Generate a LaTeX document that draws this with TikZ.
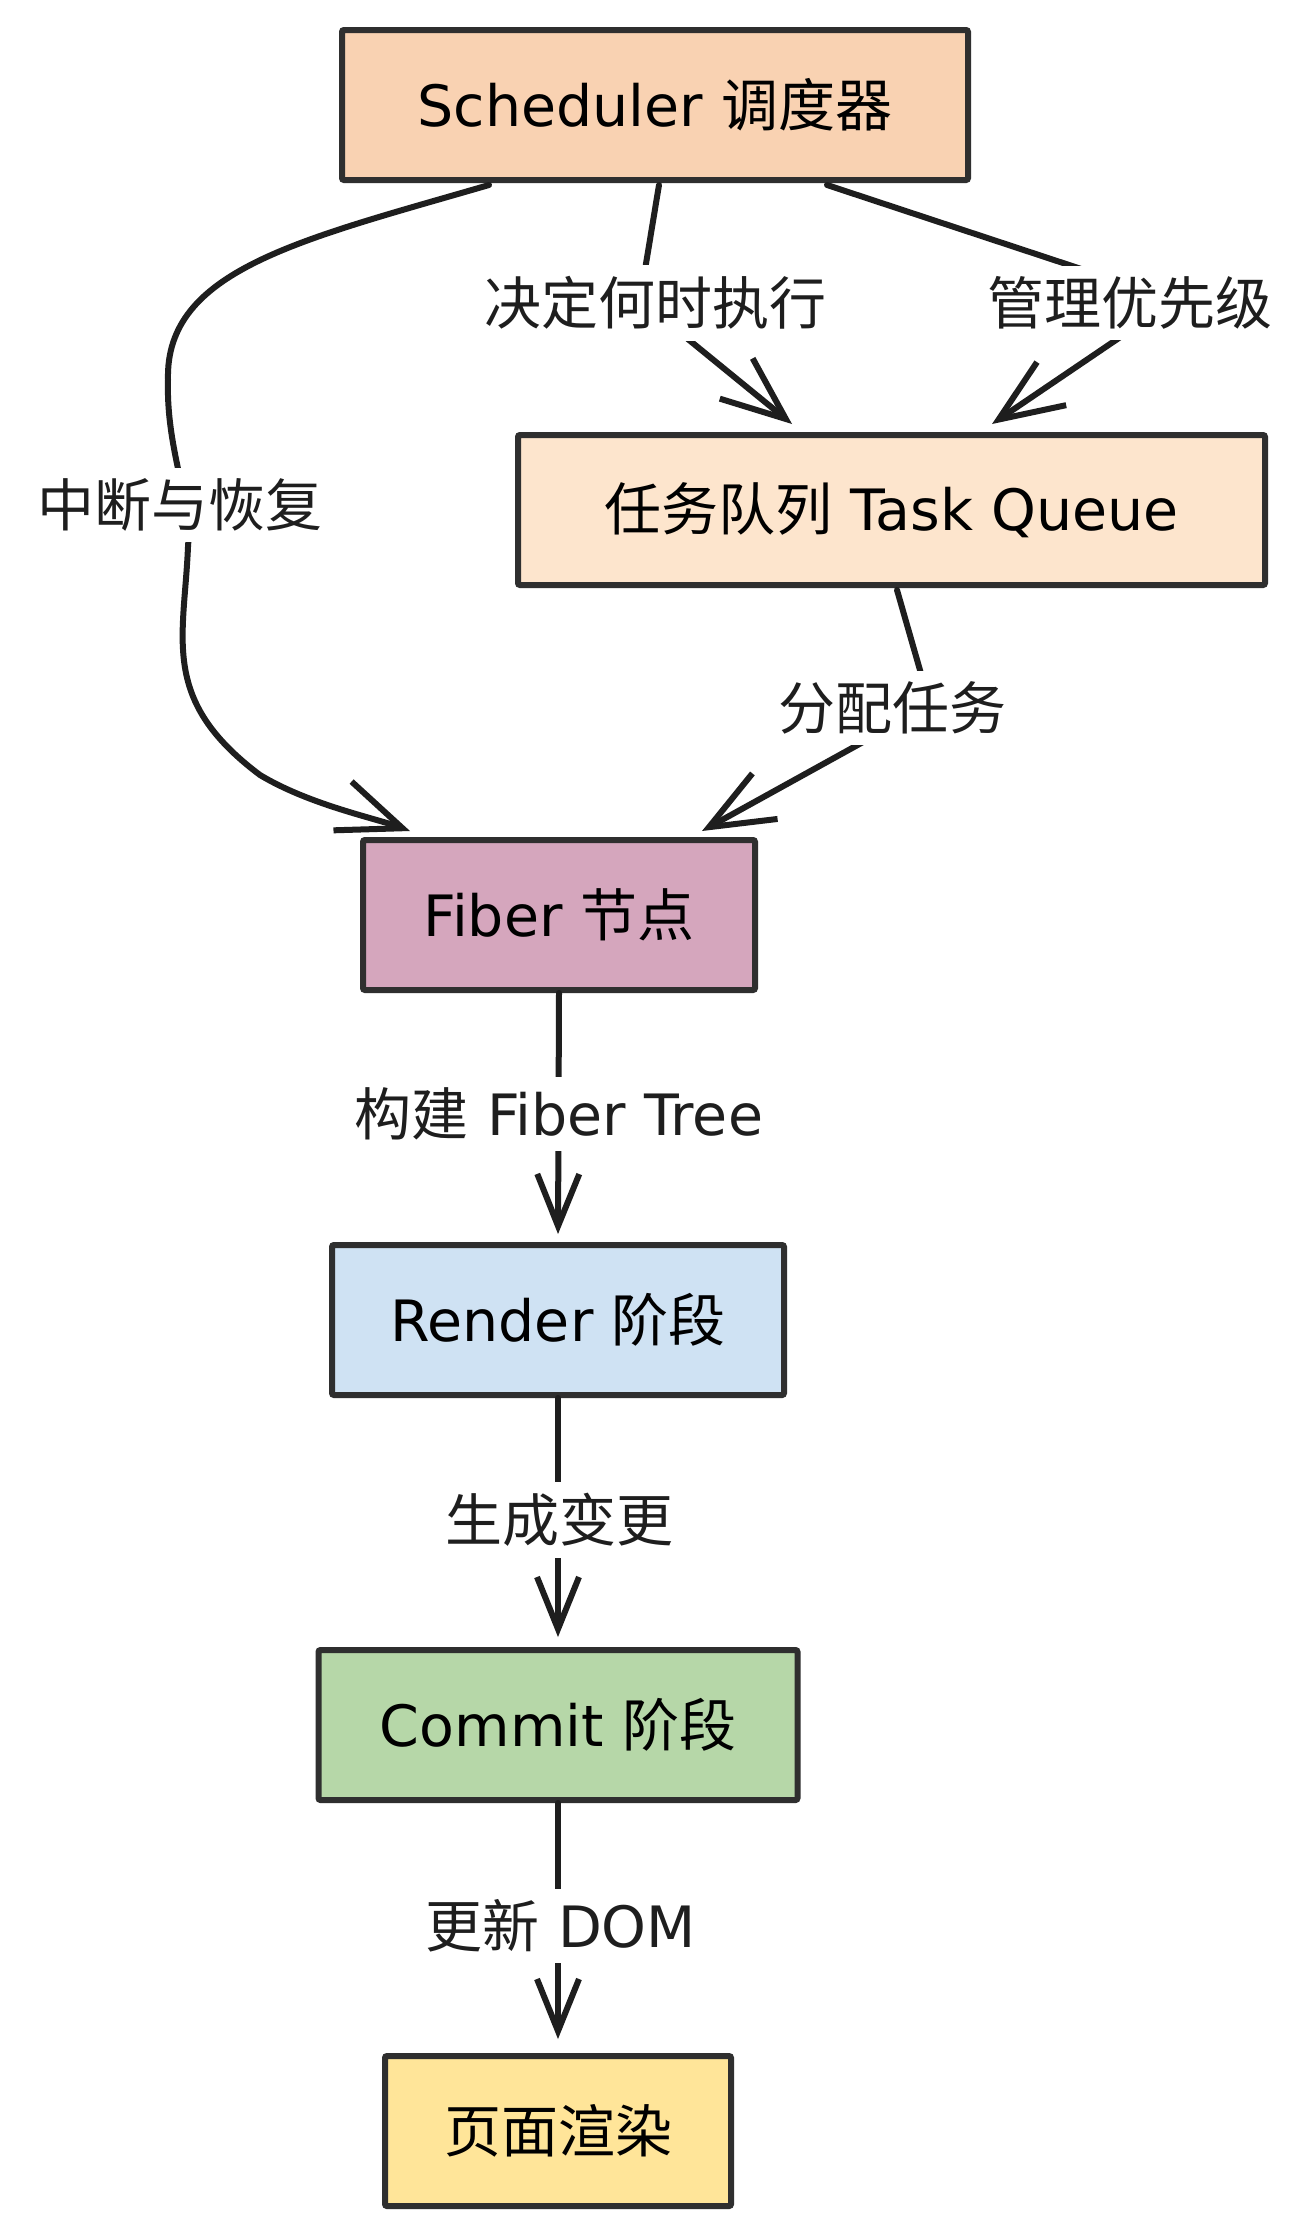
\documentclass[tikz,border=0pt]{standalone}
\usepackage{fontspec}
\setmainfont{DejaVu Sans}
\newfontfamily\cjk{Noto Sans CJK SC}
\usetikzlibrary{arrows.meta,calc}
\definecolor{cSched}{HTML}{F9D2B2}
\definecolor{cQueue}{HTML}{FDE5CD}
\definecolor{cFiber}{HTML}{D5A6BD}
\definecolor{cRender}{HTML}{CFE2F3}
\definecolor{cCommit}{HTML}{B6D7A8}
\definecolor{cPage}{HTML}{FFE599}
\definecolor{cBorder}{HTML}{2F2F2F}
\definecolor{cArrow}{HTML}{1E1E1E}
\begin{document}
\begin{tikzpicture}[x=1pt,y=-1pt,
  box/.style={draw=cBorder,line width=6pt,rounded corners=2pt,minimum height=150pt,inner sep=0pt,
    font=\fontsize{57}{68}\selectfont,text=black},
  conn/.style={draw=cArrow,line width=6pt,line cap=round,line join=round},
  bighead/.style={-{Straight Barb[length=64pt,width=52pt]}},
  smallhead/.style={-{Straight Barb[length=52pt,width=42pt]}},
  lbl/.style={fill=white,inner xsep=4pt,inner ysep=11pt,font=\fontsize{57}{68}\selectfont,text=cArrow}
]
\useasboundingbox[fill=white] (0,0) rectangle (1307,2235);

% boxes
\node[box,fill=cSched,minimum width=626pt] (sched) at (655,105) {Scheduler {\cjk 调度器}};
\node[box,fill=cQueue,minimum width=747pt] (queue) at (891.5,510) {{\cjk 任务队列} Task Queue};
\node[box,fill=cFiber,minimum width=392pt] (fiber) at (559,915) {Fiber {\cjk 节点}};
\node[box,fill=cRender,minimum width=452pt] (render) at (558,1320) {Render {\cjk 阶段}};
\node[box,fill=cCommit,minimum width=479pt] (commit) at (558,1725) {Commit {\cjk 阶段}};
\node[box,fill=cPage,minimum width=346pt] (page) at (558,2131) {{\cjk 页面渲染}};

% connectors
\draw[conn,bighead] ($(sched.south west)+(150,2)$)
   .. controls (300,240) and (165,270) .. (168,380)
   .. controls (166,450) and (192,500) .. (188,547)
   .. controls (184,640) and (160,700) .. (260,775)
   .. controls (310,805) and (375,818) .. ($(fiber.north west)+(50,-6)$);
\draw[conn,bighead] ($(sched.south west)+(320,2)$) -- (640,300) -- ($(queue.north west)+(277,-8)$);
\draw[conn,bighead] ($(sched.south west)+(488,2)$) -- (1175,300) -- ($(queue.north west)+(477,-8)$);
\draw[conn,bighead] ($(queue.south west)+(382,2)$) -- (930,705) -- ($(fiber.north west)+(342,-6)$);
\draw[conn,smallhead,shorten >=8pt] (fiber.south) -- (render.north);
\draw[conn,smallhead,shorten >=10pt] (render.south) -- (commit.north);
\draw[conn,smallhead,shorten >=14pt] (commit.south) -- (page.north);

% labels
\node[lbl] (l1) at (180,505) {\cjk 中断与恢复};
\node[lbl] (l2) at (655,303) {\cjk 决定何时执行};
\node[lbl] (l3) at (1130,303) {\cjk 管理优先级};
\node[lbl] (l4) at (892,708) {\cjk 分配任务};
\node[lbl] (l5) at (559,1114) {{\cjk 构建} Fiber Tree};
\node[lbl] (l6) at (559,1520) {\cjk 生成变更};
\node[lbl] (l7) at (561,1926) {{\cjk 更新} DOM};
\end{tikzpicture}
\end{document}
